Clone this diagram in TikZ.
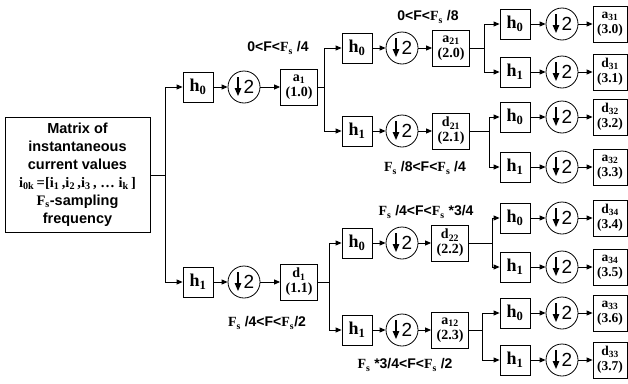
\documentclass[tikz,border=0pt]{standalone}
\usepackage{fontspec}
\setmainfont{Liberation Serif}
\setsansfont{Liberation Sans}
\usetikzlibrary{arrows.meta}
\newcommand{\Fsamp}{{\rmfamily F\textsubscript{s}}}
\tikzset{
  filt/.style={draw,line width=0.8pt,minimum size=30pt,inner sep=0pt,font=\bfseries\fontsize{18}{18}\selectfont},
  dsmp/.style={circle,draw,line width=0.8pt,minimum size=32pt,inner sep=0pt,font=\sffamily\fontsize{19}{19}\selectfont,
    path picture={\draw[line width=1.2pt,-{Triangle[length=8pt,width=6.5pt]}] ([xshift=-6pt,yshift=10pt]path picture bounding box.center) -- ([xshift=-6pt,yshift=-9pt]path picture bounding box.center);}},
  coef/.style={draw,line width=0.8pt,minimum width=37pt,minimum height=36pt,inner sep=0pt,align=center,font=\bfseries\fontsize{14}{15}\selectfont},
  leaf/.style={coef,minimum width=34pt,font=\bfseries\fontsize{13.5}{15}\selectfont},
  band/.style={font=\sffamily\bfseries\fontsize{14}{14}\selectfont},
  arr/.style={-{Triangle[length=6pt,width=5pt]},line width=0.9pt}
}
\begin{document}
\begin{tikzpicture}[x=1pt,y=-1pt]
  \useasboundingbox (0,0) rectangle (628,383);
  % input
  \node[draw,line width=0.8pt,minimum width=145pt,minimum height=115pt,align=center,font=\sffamily\bfseries\fontsize{14.5}{18}\selectfont] (mat) at (77.5,175) {Matrix of\\instantaneous\\current values\\{\rmfamily i\textsubscript{0k}\,=[i\textsubscript{1}\,,i\textsubscript{2}\,,i\textsubscript{3}\,, \dots\ i\textsubscript{k}\,]}\\\Fsamp-sampling\\frequency};
  % level 1
  \node[filt] (h10) at (198,87) {h\textsubscript{0}};
  \node[dsmp] (c10) at (244,87) {\hspace{10pt}2};
  \node[coef] (a1) at (299,87) {a\textsubscript{1}\\(1.0)};
  \node[filt] (h11) at (198,282) {h\textsubscript{1}};
  \node[dsmp] (c11) at (244,282) {\hspace{10pt}2};
  \node[coef] (d1) at (299,282) {d\textsubscript{1}\\(1.1)};
  % level 2
  \node[filt] (h20) at (357,48) {h\textsubscript{0}};
  \node[dsmp] (c20) at (402,48) {\hspace{10pt}2};
  \node[coef] (a21) at (451,48) {a\textsubscript{21}\\(2.0)};
  \node[filt] (h21) at (357,131) {h\textsubscript{1}};
  \node[dsmp] (c21) at (402,131) {\hspace{10pt}2};
  \node[coef] (d21) at (451,131) {d\textsubscript{21}\\(2.1)};
  \node[filt] (h22) at (357,243) {h\textsubscript{0}};
  \node[dsmp] (c22) at (402,243) {\hspace{10pt}2};
  \node[coef] (d22) at (450,243) {d\textsubscript{22}\\(2.2)};
  \node[filt] (h23) at (357,330) {h\textsubscript{1}};
  \node[dsmp] (c23) at (402,330) {\hspace{10pt}2};
  \node[coef] (a12) at (450,330) {a\textsubscript{12}\\(2.3)};
  % level 3
  \node[filt] (h30) at (515,24) {h\textsubscript{0}};
  \node[dsmp] (c30) at (562,24) {\hspace{10pt}2};
  \node[leaf] (a31) at (610,24) {a\textsubscript{31}\\(3.0)};
  \node[filt] (h31) at (515,72) {h\textsubscript{1}};
  \node[dsmp] (c31) at (562,72) {\hspace{10pt}2};
  \node[leaf] (d31) at (610,72) {d\textsubscript{31}\\(3.1)};
  \node[filt] (h32) at (515,117) {h\textsubscript{0}};
  \node[dsmp] (c32) at (562,117) {\hspace{10pt}2};
  \node[leaf] (d32) at (610,117) {d\textsubscript{32}\\(3.2)};
  \node[filt] (h33) at (515,167) {h\textsubscript{1}};
  \node[dsmp] (c33) at (562,167) {\hspace{10pt}2};
  \node[leaf] (a32) at (610,167) {a\textsubscript{32}\\(3.3)};
  \node[filt] (h34) at (515,218) {h\textsubscript{0}};
  \node[dsmp] (c34) at (562,218) {\hspace{10pt}2};
  \node[leaf] (d34) at (610,218) {d\textsubscript{34}\\(3.4)};
  \node[filt] (h35) at (515,267) {h\textsubscript{1}};
  \node[dsmp] (c35) at (562,267) {\hspace{10pt}2};
  \node[leaf] (a34) at (610,267) {a\textsubscript{34}\\(3.5)};
  \node[filt] (h36) at (515,313) {h\textsubscript{0}};
  \node[dsmp] (c36) at (562,313) {\hspace{10pt}2};
  \node[leaf] (a33) at (610,313) {a\textsubscript{33}\\(3.6)};
  \node[filt] (h37) at (515,360) {h\textsubscript{1}};
  \node[dsmp] (c37) at (562,360) {\hspace{10pt}2};
  \node[leaf] (d33) at (610,360) {d\textsubscript{33}\\(3.7)};
  % frequency bands
  \node[band] (f10) at (278,48) {0<F<\Fsamp\ /4};
  \node[band] (f11) at (267,323) {\Fsamp\ /4<F<\Fsamp/2};
  \node[band] (f20) at (428,17) {0<F<\Fsamp\ /8};
  \node[band] (f21) at (425,168) {\Fsamp\ /8<F<\Fsamp\ /4};
  \node[band] (f22) at (426,212) {\Fsamp\ /4<F<\Fsamp\ *3/4};
  \node[band] (f23) at (405,365) {\Fsamp\ *3/4<F<\Fsamp\ /2};
  % tree
  \draw[arr] (mat.east) -- ++(15,0) |- (h10.west);
  \draw[arr] (mat.east) -- ++(15,0) |- (h11.west);
  \draw[arr] (a1.east) -- ++(7,0) |- (h20.west);
  \draw[arr] (a1.east) -- ++(7,0) |- (h21.west);
  \draw[arr] (d1.east) -- ++(12,0) |- (h22.west);
  \draw[arr] (d1.east) -- ++(12,0) |- (h23.west);
  \draw[arr] (a21.east) -- ++(15,0) |- (h30.west);
  \draw[arr] (a21.east) -- ++(15,0) |- (h31.west);
  \draw[arr] (d21.east) -- ++(20,0) |- (h32.west);
  \draw[arr] (d21.east) -- ++(20,0) |- (h33.west);
  \draw[arr] (d22.east) -- ++(24,0) |- (h34.west);
  \draw[arr] (d22.east) -- ++(24,0) |- (h35.west);
  \draw[arr] (a12.east) -- ++(14,0) |- (h36.west);
  \draw[arr] (a12.east) -- ++(14,0) |- (h37.west);
  % filter -> downsampler -> coefficients
  \draw[arr] (h10) -- (c10);
  \draw[arr] (c10) -- (a1);
  \draw[arr] (h11) -- (c11);
  \draw[arr] (c11) -- (d1);
  \draw[arr] (h20) -- (c20);
  \draw[arr] (c20) -- (a21);
  \draw[arr] (h21) -- (c21);
  \draw[arr] (c21) -- (d21);
  \draw[arr] (h22) -- (c22);
  \draw[arr] (c22) -- (d22);
  \draw[arr] (h23) -- (c23);
  \draw[arr] (c23) -- (a12);
  \draw[arr] (h30) -- (c30);
  \draw[arr] (c30) -- (a31);
  \draw[arr] (h31) -- (c31);
  \draw[arr] (c31) -- (d31);
  \draw[arr] (h32) -- (c32);
  \draw[arr] (c32) -- (d32);
  \draw[arr] (h33) -- (c33);
  \draw[arr] (c33) -- (a32);
  \draw[arr] (h34) -- (c34);
  \draw[arr] (c34) -- (d34);
  \draw[arr] (h35) -- (c35);
  \draw[arr] (c35) -- (a34);
  \draw[arr] (h36) -- (c36);
  \draw[arr] (c36) -- (a33);
  \draw[arr] (h37) -- (c37);
  \draw[arr] (c37) -- (d33);
\end{tikzpicture}
\end{document}
